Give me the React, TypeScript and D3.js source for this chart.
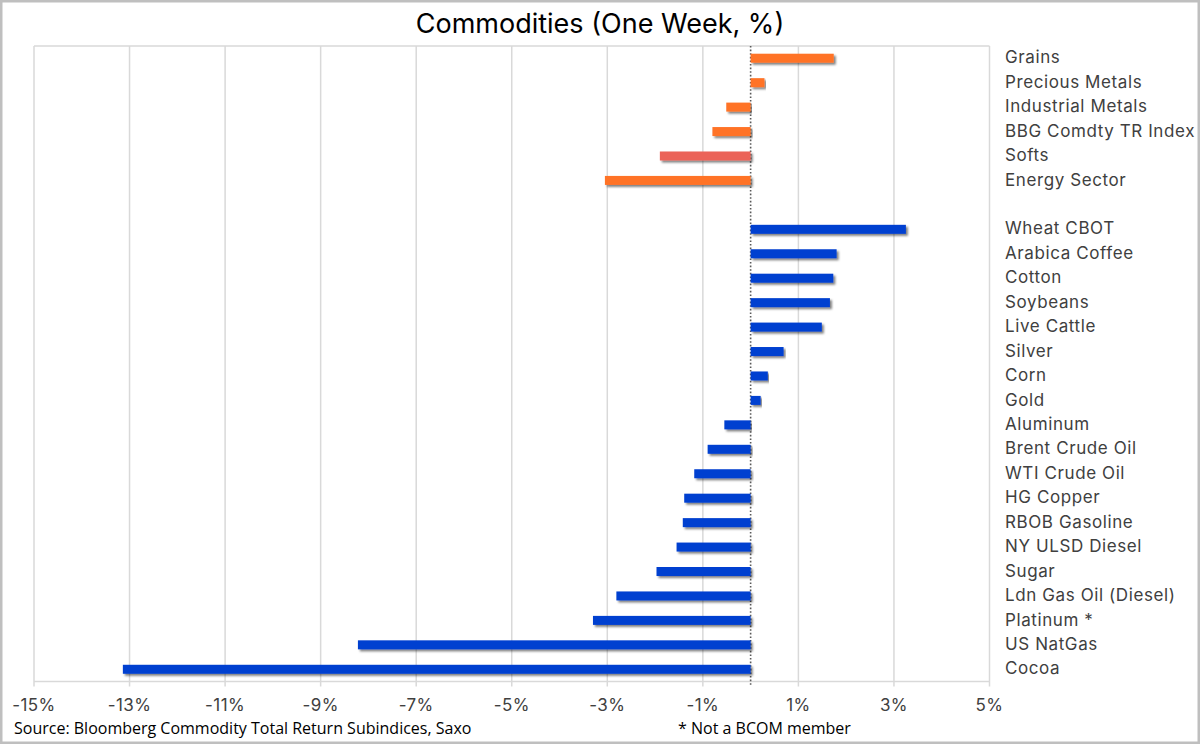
import React from "react";
import * as d3 from "d3";

const TITLE = "Commodities (One Week, %)";
const SOURCE = "Source: Bloomberg Commodity Total Return Subindices, Saxo";
const NOTE = "* Not a BCOM member";

const sectorNames = ["Grains", "Precious Metals", "Industrial Metals", "BBG Comdty TR Index", "Softs", "Energy Sector"];
const sectorValues = [1.74, 0.29, -0.51, -0.8, -1.9, -3.05];
const sectorColors = ["#FF7328", "#FF7328", "#FF7328", "#FF7328", "#EB6459", "#FF7328"];

const commodityNames = [
  "Wheat CBOT", "Arabica Coffee", "Cotton", "Soybeans", "Live Cattle", "Silver", "Corn", "Gold",
  "Aluminum", "Brent Crude Oil", "WTI Crude Oil", "HG Copper", "RBOB Gasoline", "NY ULSD Diesel",
  "Sugar", "Ldn Gas Oil (Diesel)", "Platinum *", "US NatGas", "Cocoa",
];
const commodityValues = [3.25, 1.8, 1.73, 1.66, 1.49, 0.69, 0.36, 0.21, -0.55, -0.9, -1.18, -1.39, -1.42, -1.55, -1.97, -2.81, -3.3, -8.22, -13.14];
const commodityColor = "#003FD0";

const xTicks = [-15, -13, -11, -9, -7, -5, -3, -1, 1, 3, 5];

const W = 1200;
const H = 744;

export default function App() {
  const rows = [
    ...sectorNames.map((n, i) => ({ key: n, label: n, value: sectorValues[i], color: sectorColors[i] })),
    { key: "__gap__", label: "", value: null as number | null, color: "none" },
    ...commodityNames.map((n, i) => ({ key: n, label: n, value: commodityValues[i], color: commodityColor })),
  ];

  const x = d3.scaleLinear().domain([-15, 5]).range([34, 989.5]);
  const y = d3.scaleBand<string>().domain(rows.map((r) => r.key)).range([46, 681.5]).padding(0);
  const barH = 9;
  const top = 46;
  const bottom = 681.5;
  const left = x(-15);
  const right = x(5);
  const grid = "#D9D9D9";

  return (
    <div style={{ position: "absolute", left: 0, top: 0, width: W, height: H }}>
      <svg width={W} height={H} viewBox={`0 0 ${W} ${H}`} style={{ display: "block" }}>
        <defs>
          <filter id="shadow" x="-5%" y="-50%" width="110%" height="220%">
            <feDropShadow dx="2" dy="2" stdDeviation="0.9" floodColor="#000" floodOpacity="0.5" />
          </filter>
        </defs>
        <rect x={0} y={0} width={W} height={H} fill="#fff" />
        <rect x={1.25} y={1.25} width={W - 2.5} height={H - 2.5} fill="none" stroke="#BFBFBF" strokeWidth={2.5} />

        <text x={600} y={26} textAnchor="middle" dominantBaseline="middle" fontFamily="Inter" fontSize={27} fill="#000">
          {TITLE}
        </text>

        {/* gridlines + ticks */}
        {xTicks.map((t) => (
          <line key={"g" + t} x1={x(t)} x2={x(t)} y1={top} y2={bottom + 5} stroke={grid} strokeWidth={1.5} />
        ))}
        <line x1={left} x2={right} y1={top} y2={top} stroke={grid} strokeWidth={1.5} />
        <line x1={left} x2={right} y1={bottom} y2={bottom} stroke={grid} strokeWidth={1.5} />

        {/* zero line */}
        <line x1={x(0)} x2={x(0)} y1={top} y2={bottom + 5} stroke="#595959" strokeWidth={1.6} strokeDasharray="1.6,2" />

        {/* bars */}
        {rows.map((r) =>
          r.value === null ? null : (
            <rect
              key={"b" + r.key}
              x={Math.min(x(0), x(r.value))}
              y={(y(r.key) as number) + y.bandwidth() / 2 - barH / 2}
              width={Math.abs(x(r.value) - x(0))}
              height={barH}
              fill={r.color}
              filter="url(#shadow)"
            />
          )
        )}

        {/* category labels */}
        {rows.map((r) => (
          <text
            key={"l" + r.key}
            x={1005}
            y={(y(r.key) as number) + y.bandwidth() / 2 + 0.5}
            dominantBaseline="middle"
            fontFamily="Inter"
            fontSize={17}
            letterSpacing={0.6}
            fill="#404040"
          >
            {r.label}
          </text>
        ))}

        {/* tick labels */}
        {xTicks.map((t) => (
          <text key={"t" + t} x={x(t)} y={706} textAnchor="middle" dominantBaseline="middle" fontFamily="Inter" fontSize={17} letterSpacing={0.4} fill="#404040">
            {`${t}%`}
          </text>
        ))}

        <text x={14} y={730} dominantBaseline="middle" fontFamily="Open Sans" fontSize={16} fill="#000">
          {SOURCE}
        </text>
        <text x={678} y={730} dominantBaseline="middle" fontFamily="Open Sans" fontSize={16} fill="#000">
          {NOTE}
        </text>
      </svg>
    </div>
  );
}
